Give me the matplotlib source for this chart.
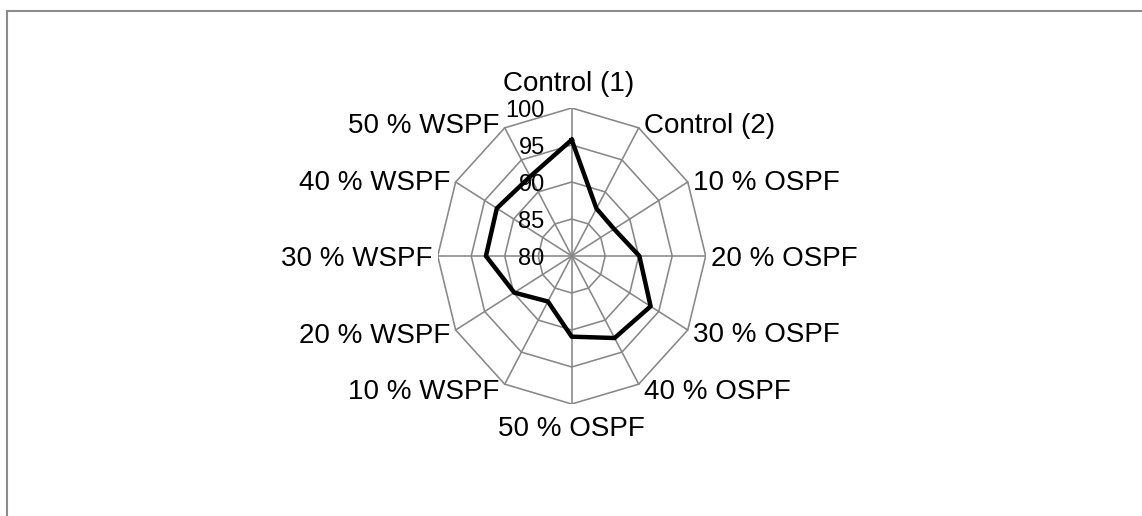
import numpy as np
import matplotlib.pyplot as plt
from matplotlib.lines import Line2D

plt.rcParams['font.family'] = ['Liberation Sans', 'DejaVu Sans']

categories = ['Control (1)', 'Control (2)', '10 % OSPF', '20 % OSPF', '30 % OSPF',
              '40 % OSPF', '50 % OSPF', '10 % WSPF', '20 % WSPF', '30 % WSPF',
              '40 % WSPF', '50 % WSPF']
values = [95.7, 87.4, 87.3, 90.1, 93.6, 92.8, 90.9, 87.1, 89.9, 92.8, 92.9, 92.4]
ticks = [80, 85, 90, 95, 100]

R_MIN, R_MAX = ticks[0], ticks[-1]
GRID = '#878787'

n = len(categories)
theta = np.arange(n) * 2 * np.pi / n  # clockwise from top


def to_xy(vals):
    r = np.asarray(vals, dtype=float) - R_MIN
    return r * np.sin(theta), r * np.cos(theta)


fig = plt.figure(figsize=(11.42, 5.16), dpi=100)

# chart frame, top and left edge only
fy = 1 - 11 / 516
fx = 7 / 1142
fig.add_artist(Line2D([fx, 1], [fy, fy], color='#8c8c8c', lw=1.5))
fig.add_artist(Line2D([fx, fx], [0, fy], color='#8c8c8c', lw=1.5))

# plot area: radius 134 px wide, 148 px tall around (571.7, 256)
cx, cy = 571.7, 516 - 256
rx, ry = 134, 148
ax = fig.add_axes([(cx - rx) / 1142, (cy - ry) / 516, 2 * rx / 1142, 2 * ry / 516])
span = R_MAX - R_MIN
ax.set_xlim(-span, span)
ax.set_ylim(-span, span)
ax.set_aspect('auto')
ax.axis('off')

# polygon rings and spokes
for t in ticks[1:]:
    gx, gy = to_xy([t] * n)
    ax.plot(np.append(gx, gx[0]), np.append(gy, gy[0]), color=GRID, lw=1.15, zorder=1)
ox, oy = to_xy([R_MAX] * n)
for x, y in zip(ox, oy):
    ax.plot([0, x], [0, y], color=GRID, lw=1.15, zorder=1)

# data series
dx, dy = to_xy(values)
ax.plot(np.append(dx, dx[0]), np.append(dy, dy[0]), color='black', lw=3.2, zorder=3)

# radial tick labels along the top spoke
for t in ticks:
    ax.annotate(str(t), xy=(0, t - R_MIN), xytext=(-27, -9), textcoords='offset pixels',
                ha='right', va='baseline', fontsize=17, zorder=4, annotation_clip=False)

# category labels outside the outer ring
for lab, th, x, y in zip(categories, theta, ox, oy):
    s, c = np.sin(th), np.cos(th)
    if abs(s) < 1e-6:
        ha = 'center'
        off = (-3, 17) if c > 0 else (0, -32)
    else:
        ha = 'left' if s > 0 else 'right'
        off = (5 * np.sign(s), -10 + 5 * c)
    ax.annotate(lab, xy=(x, y), xytext=off, textcoords='offset pixels',
                ha=ha, va='baseline', fontsize=20, annotation_clip=False)

fig.savefig('out.png', dpi=100, facecolor='white')
